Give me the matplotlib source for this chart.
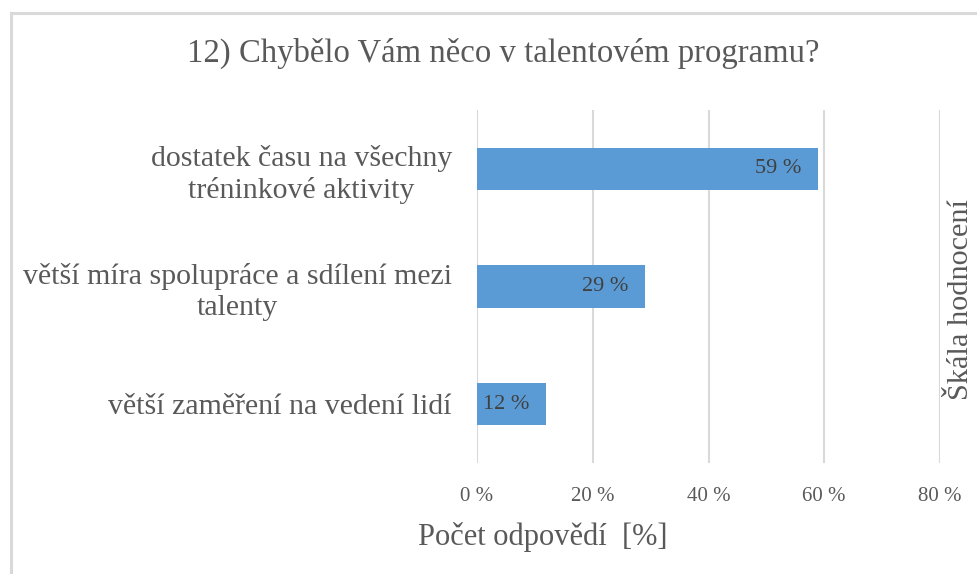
import matplotlib
matplotlib.use("Agg")
import matplotlib.pyplot as plt
from matplotlib.patches import Rectangle

categories = ["dostatek času na všechny\ntréninkové aktivity",
              "větší míra spolupráce a sdílení mezi\ntalenty",
              "větší zaměření na vedení lidí"]
values = [59, 29, 12]
xticks = [0, 20, 40, 60, 80]
xtick_labels = ["0 %", "20 %", "40 %", "60 %", "80 %"]
title = "12) Chybělo Vám něco v talentovém programu?"
xlabel = "Počet odpovědí  [%]"
right_label = "Škála hodnocení"

plt.rcParams['font.family'] = ['Liberation Serif', 'DejaVu Serif']
TXT = "#595959"

W, H = 978, 574
fig = plt.figure(figsize=(W/100, H/100), dpi=100)
fig.patch.set_facecolor("white")

# outer border
fig.patches.append(Rectangle((11/W, -0.05), 1.2, 1 - 13/H + 0.05, transform=fig.transFigure,
                             fill=False, edgecolor="#d9d9d9", linewidth=2.2, zorder=0))

left, right, top, bottom = 477/W, 940/W, 1 - 110/H, 1 - 463/H
ax = fig.add_axes([left, bottom, right - left, top - bottom])
ypos = list(range(len(categories)))
ax.barh(ypos, values, height=0.36, color="#5B9BD5", zorder=3)
ax.set_xlim(0, 80)
ax.set_ylim(2.5, -0.5)
ax.set_xticks(xticks)
ax.set_xticklabels(xtick_labels, fontsize=15, color=TXT)
ax.set_yticks(ypos)
ax.set_yticklabels(categories, fontsize=21.5, color=TXT, ha="right", multialignment="center",
                   linespacing=1.25)
ax.tick_params(axis="both", length=0)
ax.tick_params(axis="y", pad=18)
ax.tick_params(axis="x", pad=17)
ax.grid(axis="x", color="#d9d9d9", linewidth=1.5, zorder=0)
for s in ax.spines.values():
    s.set_visible(False)

for y, v in zip(ypos, values):
    ax.annotate(f"{v} %", xy=(v, y), xytext=(-12, 0), textcoords="offset points",
                ha="right", va="center", fontsize=16, color="#404040", zorder=4)

fig.text(503/W, 1 - 53/H, title, ha="center", va="center", fontsize=23.6, color=TXT)
fig.text(543/W, 1 - 537/H, xlabel, ha="center", va="center", fontsize=22, color=TXT)
fig.text(961/W, 1 - 300/H, right_label, ha="center", va="center", rotation=90, fontsize=21.8, color=TXT)

fig.savefig("out.png", dpi=100, facecolor="white")
